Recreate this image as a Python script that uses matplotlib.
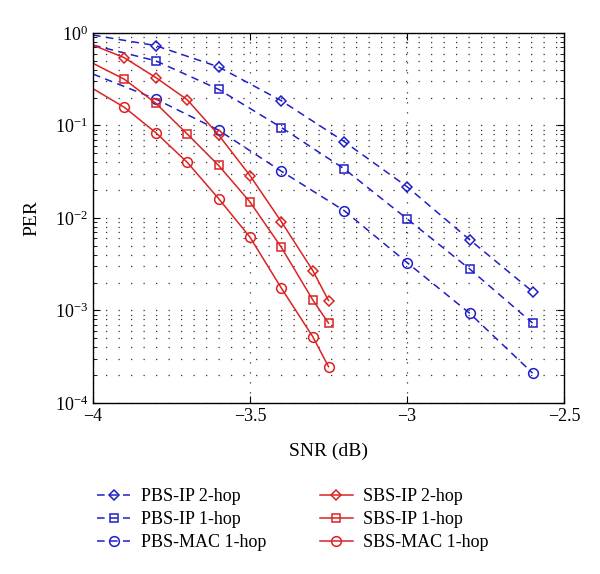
import matplotlib
matplotlib.use("Agg")
import matplotlib.pyplot as plt
from matplotlib.ticker import LogLocator, FixedLocator, NullFormatter

plt.rcParams['font.family'] = ['Liberation Serif', 'DejaVu Serif']
plt.rcParams['mathtext.fontset'] = 'stix'

# Blue (PBS) series: SNR grid, first point is line-only (no marker)
snr_pbs = [-4.0, -3.8, -3.6, -3.4, -3.2, -3.0, -2.8, -2.6]
pbs_ip_2hop = [0.95, 0.73, 0.43, 0.185, 0.067, 0.0218, 0.0058, 0.0016]
pbs_ip_1hop = [0.74, 0.50, 0.246, 0.095, 0.034, 0.0098, 0.0028, 0.00073]
pbs_mac_1hop = [0.36, 0.193, 0.089, 0.032, 0.012, 0.0033, 0.00093, 0.00021]

# Red (SBS) series
snr_sbs = [-4.0, -3.9, -3.8, -3.7, -3.6, -3.5, -3.4, -3.3, -3.25]
sbs_ip_2hop = [0.74, 0.54, 0.33, 0.19, 0.079, 0.0287, 0.0091, 0.0027, 0.00128]
sbs_ip_1hop = [0.47, 0.316, 0.174, 0.081, 0.037, 0.0149, 0.0048, 0.0013, 0.00073]
sbs_mac_1hop = [0.25, 0.157, 0.0836, 0.040, 0.0162, 0.0062, 0.00174, 0.00052, 0.000247]

labels_pbs = ['PBS-IP 2-hop', 'PBS-IP 1-hop', 'PBS-MAC 1-hop']
labels_sbs = ['SBS-IP 2-hop', 'SBS-IP 1-hop', 'SBS-MAC 1-hop']
markers = ['D', 's', 'o']
msizes = [6, 6, 7]

blue = '#1f1fc8'
red = '#dc2222'

fig = plt.figure(figsize=(6.0, 5.74), dpi=100)
ax = fig.add_axes([0.155, 0.298, 0.785, 0.6445])

for ys, lab, mk, ms in zip([pbs_ip_2hop, pbs_ip_1hop, pbs_mac_1hop], labels_pbs, markers, msizes):
    ax.plot(snr_pbs, ys, color=blue, linestyle=(0, (5, 3.5)), linewidth=1.1,
            marker=mk, markersize=ms if mk != 'D' else 5.5, markerfacecolor='none',
            markeredgewidth=1.1, markevery=slice(1, None), label=lab)
for ys, lab, mk, ms in zip([sbs_ip_2hop, sbs_ip_1hop, sbs_mac_1hop], labels_sbs, markers, msizes):
    ax.plot(snr_sbs, ys, color=red, linestyle='-', linewidth=1.1,
            marker=mk, markersize=ms if mk != 'D' else 5.5, markerfacecolor='none',
            markeredgewidth=1.1, markevery=slice(1, None), label=lab)

ax.set_yscale('log')
ax.set_xlim(-4, -2.5)
ax.set_ylim(1e-4, 1)
ax.xaxis.set_major_locator(FixedLocator([-4, -3.5, -3, -2.5]))
ax.set_xticklabels(['\u22124', '\u22123.5', '\u22123', '\u22122.5'])
ax.yaxis.set_major_locator(LogLocator(base=10, numticks=10))
ax.yaxis.set_minor_locator(LogLocator(base=10, subs=range(2, 10), numticks=20))
ax.yaxis.set_minor_formatter(NullFormatter())

ax.grid(True, which='major', axis='x', color='#333333', linestyle=(0, (1, 7)), linewidth=0.9)
ax.grid(True, which='both', axis='y', color='#333333', linestyle=(0, (1, 9)), linewidth=0.9)

ax.tick_params(which='both', direction='in', top=True, right=True, labelsize=13)
ax.tick_params(which='major', length=5)
ax.tick_params(which='minor', length=3)
for s in ax.spines.values():
    s.set_linewidth(1.0)

ax.set_xlabel('SNR (dB)', fontsize=14, labelpad=13)
ax.set_ylabel('PER', fontsize=14, labelpad=10)

handles, labels = ax.get_legend_handles_labels()
fig.legend(handles, labels, ncol=2, frameon=False, fontsize=13,
           loc='upper left', bbox_to_anchor=(0.135, 0.178),
           handlelength=1.8, handletextpad=0.6, columnspacing=3.0,
           labelspacing=0.33)

fig.savefig('out.png', dpi=100)
